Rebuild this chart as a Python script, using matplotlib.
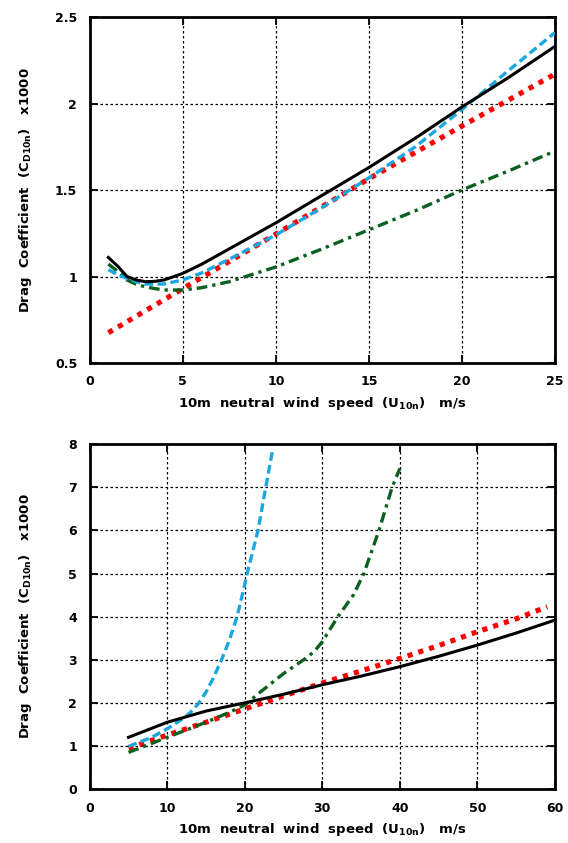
import matplotlib
matplotlib.use("Agg")
import matplotlib.pyplot as plt

plt.rcParams['font.family'] = ['DejaVu Sans']
plt.rcParams['font.weight'] = 'bold'
plt.rcParams['mathtext.fontset'] = 'custom'
plt.rcParams['mathtext.rm'] = 'DejaVu Sans:bold'
plt.rcParams['mathtext.bf'] = 'DejaVu Sans:bold'
plt.rcParams['mathtext.it'] = 'DejaVu Sans:bold'

# ---- top panel: low wind speeds ----
top_x = [1, 1.5, 2, 2.5, 3, 3.5, 4, 5, 6, 7.5, 10, 12.5, 15, 17.5, 20, 22.5, 25]
top_black = [1.11, 1.06, 1.00, 0.98, 0.97, 0.972, 0.98, 1.018, 1.07, 1.16, 1.31, 1.47, 1.63, 1.80, 1.98, 2.15, 2.33]
top_blue = [1.04, 1.01, 0.99, 0.97, 0.957, 0.955, 0.957, 0.98, 1.02, 1.10, 1.24, 1.40, 1.57, 1.75, 1.965, 2.19, 2.41]
top_green = [1.072, 1.03, 0.98, 0.955, 0.94, 0.93, 0.922, 0.922, 0.935, 0.97, 1.055, 1.16, 1.27, 1.38, 1.50, 1.61, 1.725]
top_red_x = [1, 5, 10, 15, 20, 25]
top_red = [0.675, 0.93, 1.245, 1.565, 1.87, 2.17]

# ---- bottom panel: full range ----
bot_black_x = [5, 10, 15, 20, 25, 30, 35, 40, 45, 50, 55, 60]
bot_black = [1.2, 1.55, 1.81, 2.0, 2.2, 2.42, 2.62, 2.84, 3.08, 3.34, 3.62, 3.92]
bot_red_x = [5, 10, 15, 20, 25, 30, 35, 40, 45, 50, 55, 59]
bot_red = [0.95, 1.25, 1.55, 1.86, 2.16, 2.46, 2.74, 3.03, 3.33, 3.65, 3.95, 4.23]
bot_blue_x = [5, 8, 10, 12, 13, 14, 15, 16, 17, 18, 19, 20, 20.3, 21.7, 22.7, 23.6]
bot_blue = [0.99, 1.2, 1.40, 1.63, 1.78, 1.98, 2.25, 2.6, 3.0, 3.45, 4.0, 4.75, 5.0, 6.0, 7.0, 7.88]
bot_green_x = [5, 10, 15, 18, 20, 22, 25, 28, 29, 30, 32, 34, 35.35, 37.3, 39, 40]
bot_green = [0.85, 1.2, 1.55, 1.78, 1.95, 2.25, 2.68, 3.05, 3.2, 3.42, 4.0, 4.5, 5.0, 6.0, 7.0, 7.44]

BLACK = '#000000'
BLUE = '#1aa7df'
RED = '#ff0000'
GREEN = '#0a6020'

ylab = r'Drag  Coefficient  (C$_{\mathbf{D10n}}$)   x1000'
xlab = r'10m  neutral  wind  speed  (U$_{\mathbf{10n}}$)   m/s'

fig = plt.figure(figsize=(5.68, 8.43), dpi=100)
ax1 = fig.add_axes([0.158, 0.5694, 0.819, 0.4104])
ax2 = fig.add_axes([0.158, 0.064, 0.819, 0.409])


def draw(ax, bx, by, rx, ry, blx, bly, gx, gy):
    ax.plot(rx, ry, color=RED, lw=3.7, linestyle=(0, (1, 1.2)), dash_capstyle='butt', zorder=3)
    ax.plot(gx, gy, color=GREEN, lw=2.4, linestyle=(0, (3.2, 1.5, 1, 1.5)), zorder=4)
    ax.plot(blx, bly, color=BLUE, lw=2.4, linestyle=(0, (2.6, 1.3)), zorder=5)
    ax.plot(bx, by, color=BLACK, lw=2.2, zorder=6)
    ax.grid(True, color='black', linestyle=(0, (2, 2)), linewidth=0.9)
    ax.tick_params(direction='in', length=6, width=1.3, top=True, right=True,
                   labelsize=9, pad=9)
    for s in ax.spines.values():
        s.set_linewidth(2)
    ax.set_ylabel(ylab, fontsize=9.5, fontweight='bold')
    ax.yaxis.set_label_coords(-0.12, 0.5)
    ax.set_xlabel(xlab, fontsize=9.5, fontweight='bold', labelpad=5)
    for lbl in ax.get_xticklabels() + ax.get_yticklabels():
        lbl.set_fontweight('bold')


draw(ax1, top_x, top_black, top_red_x, top_red, top_x, top_blue, top_x, top_green)
ax1.set_xlim(0, 25)
ax1.set_ylim(0.5, 2.5)
ax1.set_xticks([0, 5, 10, 15, 20, 25])
ax1.set_yticks([0.5, 1, 1.5, 2, 2.5])
ax1.set_yticklabels(['0.5', '1', '1.5', '2', '2.5'])

draw(ax2, bot_black_x, bot_black, bot_red_x, bot_red, bot_blue_x, bot_blue, bot_green_x, bot_green)
ax2.set_xlim(0, 60)
ax2.set_ylim(0, 8)
ax2.set_xticks([0, 10, 20, 30, 40, 50, 60])
ax2.set_yticks(range(0, 9))

fig.savefig('out.png', dpi=100)
